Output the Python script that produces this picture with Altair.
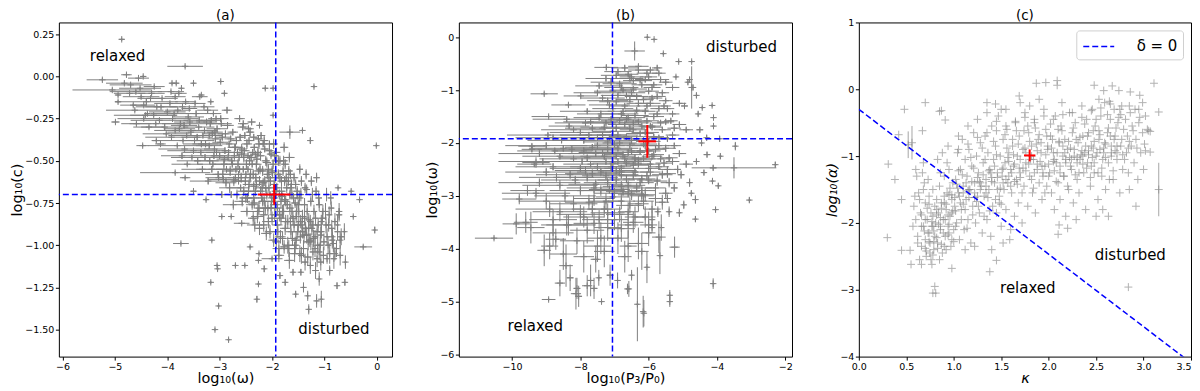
import altair as alt
import pandas as pd

FONT = "DejaVu Sans"
GRAY = "#808080"
PLUS = "M-1,0L1,0M0,-1L0,1"

# ---------------- panel (a): log10(omega) vs log10(c) ----------------
a_out_x = [
    -4.87, -3.66, -5.24, -4.78, -4.46,
    -5.05, -4.94, -4.99, -4.47, -3.74,
    -3.15, -3.05, -3.04, -3.17, -3.02,
    -3.09, -2.96, -4.13, -3.85, -3.66,
    -3.50, -3.26, -4.59, -4.21, -3.91,
    -3.83, -3.50, -2.98, -2.91, -3.35,
    -3.17, -3.73, -4.94, -4.45, -4.38,
    -4.26, -1.20, -0.01, -1.66, -1.42,
    -1.27, -0.04, -0.26, -0.33, -0.45,
    -0.74, -0.49, -2.13, -1.98, -1.98,
    -2.24, -2.83, -2.29, -2.26, -1.55,
    -1.32, -1.06, -0.76, -0.61, -2.52,
    -2.26, -2.25, -2.00, -1.60, -1.45,
    -2.42, -0.60, -2.58, -2.78, -1.30,
    -1.15, -1.75, -1.85, -2.15, -2.70,
    -0.85, -0.75, -0.70, -0.80, -0.72,
    -0.95, -0.62, -1.40, -1.10, -0.90]
a_out_y = [
    0.22, 0.06, -0.02, 0.01, 0.00,
    -0.08, -0.15, -0.27, -0.41, -0.99,
    -0.97, -1.12, -1.14, -1.22, -1.36,
    -1.50, -0.83, -0.40, -0.57, -0.60,
    -0.68, -0.73, -0.28, -0.38, -0.04,
    -0.04, -0.04, -0.03, -0.10, -0.11,
    -0.15, -0.07, -0.11, -0.17, -0.22,
    -0.23, -0.06, -0.41, -0.33, -0.32,
    -0.38, -0.91, -1.01, -0.73, -0.83,
    -0.66, -0.68, -0.07, -0.07, -0.23,
    -0.29, -1.56, -1.32, -1.23, -1.29,
    -1.30, -1.32, -1.24, -1.22, -1.12,
    -1.09, -1.05, -1.08, -1.16, -1.16,
    -1.01, -1.10, -0.87, -0.83, -1.38,
    -1.33, -1.22, -1.18, -1.14, -1.12,
    -0.95, -0.88, -0.97, -1.05, -0.80,
    -1.08, -0.92, -1.25, -1.20, -1.15]
a_out_xerr = [
    0.05, 0.34, 0.30, 0.10, 0.05,
    0.76, 0.05, 0.08, 0.12, 0.15,
    0.03, 0.03, 0.03, 0.03, 0.03,
    0.03, 0.04, 0.10, 0.67, 0.10,
    0.05, 0.05, 0.29, 0.08, 0.05,
    0.05, 0.04, 0.04, 0.04, 0.04,
    0.04, 0.04, 0.05, 0.22, 0.05,
    0.45, 0.03, 0.03, 0.20, 0.03,
    0.03, 0.03, 0.17, 0.03, 0.03,
    0.03, 0.03, 0.05, 0.05, 0.03,
    0.03, 0.03, 0.03, 0.03, 0.03,
    0.03, 0.03, 0.03, 0.03, 0.03,
    0.03, 0.03, 0.20, 0.03, 0.03,
    0.03, 0.03, 0.15, 0.03, 0.03,
    0.04, 0.03, 0.03, 0.03, 0.03,
    0.03, 0.03, 0.03, 0.03, 0.03,
    0.03, 0.03, 0.03, 0.03, 0.03]
a_out_yerr = [
    0.01, 0.01, 0.01, 0.01, 0.01,
    0.01, 0.01, 0.01, 0.01, 0.01,
    0.01, 0.01, 0.01, 0.01, 0.01,
    0.01, 0.01, 0.01, 0.01, 0.01,
    0.01, 0.01, 0.01, 0.01, 0.01,
    0.01, 0.01, 0.01, 0.01, 0.01,
    0.01, 0.01, 0.01, 0.01, 0.01,
    0.01, 0.01, 0.01, 0.04, 0.01,
    0.02, 0.02, 0.01, 0.01, 0.01,
    0.01, 0.01, 0.01, 0.01, 0.01,
    0.01, 0.01, 0.02, 0.01, 0.02,
    0.03, 0.05, 0.02, 0.02, 0.01,
    0.01, 0.01, 0.01, 0.02, 0.02,
    0.01, 0.04, 0.01, 0.01, 0.03,
    0.04, 0.02, 0.02, 0.02, 0.01,
    0.05, 0.06, 0.05, 0.04, 0.05,
    0.03, 0.05, 0.03, 0.04, 0.03]

a_core_x = [
    -4.60, -4.50, -4.40, -4.30, -4.20, -4.15, -4.10, -4.05, -4.00, -4.45, -4.35, -4.25, -4.70, -4.55, -4.65,
    -3.95, -3.90, -3.85, -3.80, -3.75, -3.70, -3.65, -3.60, -3.55, -3.50, -3.85, -3.72, -3.62, -3.92, -3.58, -3.78, -3.68,
    -3.45, -3.40, -3.35, -3.30, -3.28, -3.25, -3.20, -3.15, -3.12, -3.10, -3.05, -3.02, -3.42, -3.38, -3.22, -3.08, -3.32, -3.18, -3.48, -3.00,
    -2.98, -2.95, -2.92, -2.90, -2.88, -2.85, -2.82, -2.80, -2.78, -2.75, -2.72, -2.70, -2.68, -2.65, -2.62, -2.60, -2.58, -2.55, -2.52, -2.50, -2.96, -2.86, -2.74, -2.66, -2.56, -2.94, -2.84, -2.64, -2.54, -2.76,
    -2.48, -2.46, -2.44, -2.42, -2.40, -2.38, -2.36, -2.34, -2.32, -2.30, -2.28, -2.26, -2.24, -2.22, -2.20, -2.18, -2.16, -2.14, -2.12, -2.10, -2.08, -2.06, -2.04, -2.02, -2.00, -2.47, -2.39, -2.33, -2.27, -2.21, -2.17, -2.11, -2.05, -2.43, -2.35, -2.25, -2.15, -2.07,
    -1.98, -1.96, -1.94, -1.92, -1.90, -1.88, -1.86, -1.84, -1.82, -1.80, -1.78, -1.76, -1.74, -1.72, -1.70, -1.68, -1.66, -1.64, -1.62, -1.60, -1.58, -1.56, -1.54, -1.52, -1.50, -1.97, -1.87, -1.77, -1.67, -1.57, -1.93, -1.83, -1.73, -1.63, -1.53,
    -1.48, -1.46, -1.44, -1.42, -1.40, -1.38, -1.36, -1.34, -1.32, -1.30, -1.28, -1.26, -1.24, -1.22, -1.20, -1.18, -1.16, -1.14, -1.12, -1.10, -1.08, -1.06, -1.04, -1.02, -1.47, -1.35, -1.25, -1.15,
    -0.98, -0.95, -0.92, -0.90, -0.87, -0.85, -0.82, -0.80, -0.77, -0.75, -0.72, -0.70, -0.68, -0.96, -0.88]
a_core_y = [
    -0.09, -0.12, -0.15, -0.10, -0.18, -0.26, -0.13, -0.30, -0.21, -0.25, -0.30, -0.06, -0.05, -0.01, -0.17,
    -0.16, -0.25, -0.32, -0.20, -0.28, -0.38, -0.15, -0.24, -0.33, -0.44, -0.12, -0.47, -0.52, -0.36, -0.19, -0.10, -0.29,
    -0.22, -0.30, -0.40, -0.18, -0.48, -0.27, -0.35, -0.55, -0.22, -0.43, -0.31, -0.60, -0.50, -0.12, -0.62, -0.37, -0.35, -0.28, -0.38, -0.47,
    -0.25, -0.36, -0.52, -0.44, -0.63, -0.29, -0.40, -0.56, -0.70, -0.33, -0.47, -0.60, -0.38, -0.52, -0.25, -0.66, -0.43, -0.55, -0.35, -0.72, -0.70, -0.20, -0.76, -0.45, -0.30, -0.58, -0.48, -0.58, -0.48, -0.52,
    -0.40, -0.55, -0.64, -0.33, -0.48, -0.76, -0.58, -0.42, -0.68, -0.52, -0.83, -0.37, -0.62, -0.47, -0.72, -0.56, -0.88, -0.43, -0.66, -0.51, -0.78, -0.60, -0.70, -0.46, -0.84, -0.72, -0.27, -0.88, -0.45, -0.35, -0.63, -0.93, -0.40, -0.50, -0.65, -0.78, -0.74, -0.55,
    -0.52, -0.64, -0.76, -0.45, -0.88, -0.58, -0.70, -0.95, -0.62, -0.80, -0.50, -0.73, -0.86, -0.66, -1.00, -0.56, -0.78, -0.92, -0.70, -0.84, -0.60, -0.75, -0.97, -0.68, -0.88, -0.40, -1.02, -0.42, -0.48, -1.05, -0.68, -0.74, -0.60, -0.64, -0.80,
    -0.72, -0.95, -0.62, -0.83, -1.02, -0.76, -0.90, -0.67, -1.07, -0.85, -0.97, -0.74, -0.90, -1.04, -0.80, -0.95, -0.68, -1.08, -0.88, -0.76, -1.00, -0.92, -0.84, -1.06, -0.55, -0.58, -0.62, -0.60,
    -0.80, -0.95, -0.88, -1.05, -0.78, -0.97, -1.08, -0.86, -1.02, -0.92, -0.82, -1.06, -0.95, -0.70, -0.72]
a_core_xerr = [
    0.50, 0.35, 0.60, 0.25, 0.40, 0.55, 0.30, 0.45, 0.35, 0.50, 0.30, 0.20, 0.40, 0.20, 0.25,
    0.30, 0.50, 0.40, 0.25, 0.35, 0.60, 0.20, 0.30, 0.45, 0.50, 0.20, 0.40, 0.30, 0.50, 0.15, 0.15, 0.25,
    0.20, 0.30, 0.35, 0.20, 0.30, 0.20, 0.25, 0.30, 0.15, 0.20, 0.20, 0.25, 0.40, 0.15, 0.35, 0.15, 0.20, 0.20, 0.30, 0.15,
    0.15, 0.15, 0.20, 0.12, 0.20, 0.12, 0.15, 0.15, 0.20, 0.10, 0.12, 0.15, 0.10, 0.12, 0.10, 0.15, 0.10, 0.12, 0.10, 0.12, 0.25, 0.10, 0.20, 0.10, 0.10, 0.20, 0.15, 0.12, 0.10, 0.15,
    0.10, 0.10, 0.12, 0.08, 0.10, 0.12, 0.10, 0.08, 0.10, 0.10, 0.12, 0.08, 0.10, 0.08, 0.10, 0.08, 0.12, 0.08, 0.10, 0.08, 0.10, 0.08, 0.10, 0.08, 0.10, 0.15, 0.08, 0.15, 0.08, 0.08, 0.08, 0.10, 0.08, 0.10, 0.10, 0.10, 0.10, 0.08,
    0.10, 0.08, 0.10, 0.08, 0.10, 0.08, 0.08, 0.10, 0.08, 0.08, 0.08, 0.08, 0.10, 0.08, 0.10, 0.08, 0.08, 0.10, 0.08, 0.08, 0.08, 0.08, 0.10, 0.08, 0.08, 0.08, 0.12, 0.08, 0.10, 0.10, 0.08, 0.08, 0.08, 0.08, 0.08,
    0.08, 0.08, 0.06, 0.08, 0.08, 0.06, 0.08, 0.06, 0.08, 0.06, 0.06, 0.06, 0.06, 0.06, 0.06, 0.06, 0.06, 0.06, 0.06, 0.06, 0.06, 0.06, 0.06, 0.06, 0.06, 0.06, 0.06, 0.06,
    0.05, 0.05, 0.05, 0.05, 0.05, 0.05, 0.05, 0.05, 0.05, 0.05, 0.05, 0.05, 0.05, 0.05, 0.05]
a_core_yerr = [
    0.01, 0.01, 0.02, 0.01, 0.01, 0.01, 0.01, 0.02, 0.01, 0.01, 0.01, 0.01, 0.01, 0.01, 0.01,
    0.01, 0.02, 0.01, 0.01, 0.02, 0.01, 0.01, 0.01, 0.02, 0.01, 0.01, 0.02, 0.01, 0.01, 0.01, 0.01, 0.02,
    0.02, 0.01, 0.02, 0.01, 0.02, 0.02, 0.01, 0.02, 0.01, 0.02, 0.02, 0.01, 0.02, 0.01, 0.02, 0.02, 0.01, 0.02, 0.01, 0.02,
    0.02, 0.02, 0.03, 0.02, 0.03, 0.02, 0.02, 0.03, 0.02, 0.02, 0.03, 0.02, 0.02, 0.03, 0.02, 0.02, 0.03, 0.02, 0.02, 0.03, 0.02, 0.02, 0.03, 0.02, 0.02, 0.03, 0.02, 0.02, 0.03, 0.02,
    0.03, 0.02, 0.03, 0.03, 0.02, 0.03, 0.03, 0.02, 0.03, 0.03, 0.04, 0.02, 0.03, 0.03, 0.02, 0.03, 0.04, 0.02, 0.03, 0.03, 0.04, 0.03, 0.02, 0.03, 0.04, 0.03, 0.02, 0.04, 0.03, 0.02, 0.03, 0.04, 0.02, 0.03, 0.03, 0.04, 0.03, 0.03,
    0.03, 0.03, 0.04, 0.03, 0.04, 0.03, 0.03, 0.04, 0.03, 0.04, 0.03, 0.03, 0.04, 0.03, 0.05, 0.03, 0.04, 0.04, 0.03, 0.04, 0.03, 0.03, 0.05, 0.03, 0.04, 0.03, 0.05, 0.03, 0.03, 0.05, 0.03, 0.04, 0.03, 0.03, 0.04,
    0.04, 0.04, 0.03, 0.04, 0.05, 0.04, 0.04, 0.03, 0.05, 0.04, 0.04, 0.03, 0.04, 0.05, 0.04, 0.04, 0.03, 0.05, 0.04, 0.04, 0.05, 0.04, 0.04, 0.05, 0.03, 0.03, 0.03, 0.03,
    0.05, 0.05, 0.04, 0.06, 0.04, 0.05, 0.06, 0.05, 0.05, 0.05, 0.04, 0.06, 0.05, 0.04, 0.04]

a_core2_x = [
    -3.20, -3.16, -3.13, -3.09, -3.06, -3.03, -2.99, -2.97, -2.93, -2.91,
    -2.89, -2.87, -2.83, -2.81, -2.79, -2.77, -2.73, -2.71, -2.69, -2.67,
    -2.63, -2.61, -2.59, -2.57, -2.53, -2.51, -2.49, -2.45, -2.41, -2.37,
    -2.35, -2.31, -2.29, -2.27, -2.23, -2.19, -2.17, -2.13, -2.09, -2.07,
    -2.03, -2.01, -1.99, -1.95, -1.93, -1.91, -1.89, -1.85, -1.83, -1.81,
    -1.79, -1.75, -1.71, -1.69, -1.65, -1.61, -1.59, -1.55, -1.51, -1.49,
    -1.45, -1.43, -1.39, -1.37, -1.33, -1.31, -1.27, -1.23, -1.21, -1.17,
    -1.13, -1.11, -1.07, -1.03, -1.01, -0.97, -0.93, -0.91, -0.86, -0.83,
    -4.82, -4.72, -4.62, -4.52, -4.42, -4.32, -4.22, -4.12, -4.02, -3.93,
    -3.87, -3.81, -3.77, -3.71, -3.67, -3.63, -3.57, -3.53, -3.47, -3.43,
    -3.39, -3.36, -3.33, -3.29, -3.27, -3.23, -3.19, -3.14, -3.11, -3.07,
    -1.97, -1.87, -1.77, -1.67, -1.57, -1.47, -1.37, -1.27, -1.17, -1.07,
    -2.55, -2.45, -2.35, -2.25, -2.15, -2.05, -1.95, -1.85, -1.75, -1.65]
a_core2_y = [
    -0.41, -0.26, -0.52, -0.33, -0.45, -0.58, -0.39, -0.28, -0.61, -0.49,
    -0.34, -0.55, -0.45, -0.66, -0.37, -0.50, -0.62, -0.42, -0.55, -0.70,
    -0.48, -0.36, -0.60, -0.74, -0.44, -0.62, -0.52, -0.68, -0.58, -0.45,
    -0.72, -0.60, -0.49, -0.80, -0.55, -0.66, -0.40, -0.78, -0.58, -0.86,
    -0.62, -0.74, -0.57, -0.82, -0.50, -0.66, -0.92, -0.60, -0.84, -0.71,
    -0.56, -0.90, -0.76, -0.62, -0.86, -0.96, -0.72, -0.64, -0.92, -0.80,
    -0.70, -0.88, -0.94, -0.66, -0.80, -0.98, -0.86, -0.70, -0.96, -0.84,
    -1.00, -0.72, -0.94, -0.80, -0.98, -0.88, -1.00, -0.82, -0.90, -0.99,
    -0.04, -0.10, -0.20, -0.07, -0.23, -0.13, -0.28, -0.18, -0.34, -0.09,
    -0.22, -0.41, -0.31, -0.18, -0.43, -0.35, -0.27, -0.48, -0.16, -0.36,
    -0.26, -0.45, -0.55, -0.32, -0.40, -0.20, -0.50, -0.34, -0.47, -0.25,
    -0.97, -1.06, -1.01, -1.09, -1.02, -1.05, -1.10, -1.12, -1.15, -1.10,
    -0.28, -0.31, -0.36, -0.40, -0.38, -0.44, -0.47, -0.50, -0.52, -0.58]
a_core2_xerr = [
    0.25, 0.20, 0.30, 0.15, 0.20, 0.25, 0.15, 0.20, 0.30, 0.15,
    0.15, 0.20, 0.12, 0.20, 0.12, 0.15, 0.15, 0.12, 0.12, 0.18,
    0.10, 0.10, 0.12, 0.15, 0.10, 0.12, 0.10, 0.12, 0.10, 0.08,
    0.10, 0.10, 0.08, 0.12, 0.08, 0.10, 0.08, 0.10, 0.08, 0.12,
    0.08, 0.10, 0.08, 0.10, 0.08, 0.08, 0.10, 0.08, 0.10, 0.08,
    0.08, 0.10, 0.08, 0.08, 0.08, 0.10, 0.08, 0.08, 0.08, 0.08,
    0.06, 0.08, 0.08, 0.06, 0.06, 0.08, 0.06, 0.06, 0.06, 0.06,
    0.06, 0.06, 0.06, 0.06, 0.06, 0.05, 0.05, 0.05, 0.05, 0.05,
    0.35, 0.30, 0.55, 0.40, 0.60, 0.25, 0.50, 0.30, 0.45, 0.25,
    0.45, 0.55, 0.30, 0.25, 0.50, 0.35, 0.30, 0.40, 0.20, 0.30,
    0.30, 0.35, 0.40, 0.25, 0.25, 0.20, 0.30, 0.20, 0.25, 0.15,
    0.10, 0.10, 0.08, 0.10, 0.08, 0.08, 0.06, 0.06, 0.06, 0.06,
    0.10, 0.10, 0.08, 0.08, 0.08, 0.08, 0.08, 0.08, 0.08, 0.08]
a_core2_yerr = [
    0.015, 0.02, 0.015, 0.02, 0.015, 0.02, 0.02, 0.015, 0.02, 0.02,
    0.02, 0.02, 0.02, 0.03, 0.02, 0.02, 0.03, 0.02, 0.02, 0.03,
    0.02, 0.02, 0.03, 0.03, 0.02, 0.03, 0.03, 0.03, 0.03, 0.02,
    0.03, 0.03, 0.03, 0.04, 0.03, 0.03, 0.02, 0.04, 0.03, 0.04,
    0.03, 0.04, 0.03, 0.04, 0.03, 0.03, 0.04, 0.03, 0.04, 0.03,
    0.03, 0.04, 0.03, 0.03, 0.04, 0.04, 0.03, 0.03, 0.04, 0.04,
    0.04, 0.04, 0.05, 0.03, 0.04, 0.05, 0.04, 0.04, 0.05, 0.04,
    0.05, 0.04, 0.05, 0.04, 0.05, 0.05, 0.05, 0.05, 0.05, 0.05,
    0.01, 0.01, 0.01, 0.01, 0.01, 0.01, 0.01, 0.01, 0.01, 0.01,
    0.01, 0.01, 0.01, 0.01, 0.01, 0.01, 0.02, 0.01, 0.01, 0.02,
    0.02, 0.015, 0.02, 0.015, 0.02, 0.015, 0.02, 0.015, 0.02, 0.015,
    0.04, 0.04, 0.04, 0.05, 0.04, 0.05, 0.05, 0.05, 0.05, 0.05,
    0.02, 0.02, 0.02, 0.03, 0.03, 0.03, 0.03, 0.03, 0.03, 0.03]

a_core3_x = [
    -2.62, -2.58, -2.54, -2.50, -2.46, -2.42, -2.38, -2.34, -2.30, -2.26,
    -2.22, -2.18, -2.14, -2.10, -2.06, -2.02, -1.98, -1.94, -1.90, -1.86,
    -1.82, -1.78, -1.74, -1.70, -1.66, -1.62, -1.58, -1.54, -1.50, -1.46,
    -1.42, -1.38, -1.34, -1.30, -1.26, -1.22, -1.18, -1.14, -1.10, -1.06,
    -2.70, -2.64, -2.44, -2.32, -2.12, -2.00, -1.88, -1.76, -1.64, -1.52,
    -2.48, -2.36, -2.24, -2.16, -2.04, -1.92, -1.80, -1.68, -1.56, -1.44]
a_core3_y = [
    -0.55, -0.46, -0.68, -0.58, -0.47, -0.60, -0.52, -0.75, -0.64, -0.56,
    -0.68, -0.74, -0.62, -0.70, -0.66, -0.78, -0.72, -0.60, -0.78, -0.82,
    -0.68, -0.80, -0.74, -0.86, -0.70, -0.80, -0.88, -0.83, -0.76, -0.86,
    -0.92, -0.84, -0.94, -0.90, -0.98, -0.88, -1.02, -0.92, -1.04, -0.86,
    -0.42, -0.62, -0.38, -0.46, -0.50, -0.56, -0.50, -0.62, -0.66, -0.70,
    -0.80, -0.84, -0.90, -0.82, -0.92, -0.98, -0.96, -1.02, -1.00, -1.06]
a_core3_xerr = [
    0.12, 0.10, 0.12, 0.10, 0.10, 0.12, 0.10, 0.12, 0.10, 0.10,
    0.10, 0.08, 0.10, 0.08, 0.10, 0.08, 0.10, 0.08, 0.10, 0.08,
    0.08, 0.10, 0.08, 0.08, 0.10, 0.08, 0.08, 0.10, 0.08, 0.08,
    0.08, 0.06, 0.08, 0.06, 0.06, 0.08, 0.06, 0.06, 0.06, 0.06,
    0.15, 0.12, 0.10, 0.10, 0.08, 0.10, 0.08, 0.08, 0.08, 0.08,
    0.12, 0.10, 0.10, 0.08, 0.10, 0.08, 0.08, 0.08, 0.08, 0.06]
a_core3_yerr = [
    0.02, 0.02, 0.03, 0.02, 0.02, 0.03, 0.02, 0.03, 0.03, 0.02,
    0.03, 0.03, 0.03, 0.03, 0.03, 0.04, 0.03, 0.03, 0.04, 0.04,
    0.03, 0.04, 0.03, 0.04, 0.03, 0.04, 0.04, 0.04, 0.03, 0.04,
    0.04, 0.04, 0.05, 0.04, 0.05, 0.04, 0.05, 0.04, 0.05, 0.04,
    0.02, 0.02, 0.02, 0.02, 0.03, 0.03, 0.03, 0.03, 0.03, 0.03,
    0.03, 0.04, 0.04, 0.04, 0.04, 0.04, 0.04, 0.05, 0.05, 0.05]

a_red = {"x": [-1.96], "y": [-0.70], "ex": [0.31], "ey": [0.06]}
a_vline = [-1.93]
a_hline = [-0.70]
a_notes = {"x": [-4.95, -0.82], "y": [0.124, -1.496], "t": ["relaxed", "disturbed"]}

# ---------------- panel (b): log10(P3/P0) vs log10(omega) ----------------
b_out_x = [
    -10.53, -9.06, -8.93, -8.93, -7.38,
    -9.42, -9.42, -9.30, -9.55, -9.45,
    -9.60, -9.06, -8.42, -8.13, -7.80,
    -7.13, -7.55, -7.24, -6.04, -5.84,
    -6.41, -5.57, -4.74, -4.74, -4.43,
    -4.14, -4.10, -4.10, -3.92, -3.46,
    -3.90, -3.50, -2.29, -4.11, -4.13,
    -3.96, -3.05, -4.04, -4.63, -4.11,
    -5.38, -5.38, -6.16, -6.33, -6.14,
    -6.58, -6.50, -5.67, -5.24, -5.63,
    -5.90, -5.90, -5.73, -5.40, -5.10,
    -4.63, -4.97, -4.80, -5.15, -5.05,
    -4.38, -4.29, -5.12, -5.20, -4.80,
    -4.70, -4.60, -7.99, -8.35, -8.33,
    -9.35, -9.79, -9.88, -8.72, -8.90,
    -7.70, -7.60, -8.05, -6.62, -6.05,
    -6.91, -7.46, -8.60, -8.30, -8.10,
    -4.85, -4.95, -4.50, -4.45, -4.30,
    -4.60, -4.75, -5.45, -5.25, -4.55]
b_out_y = [
    -3.80, -1.07, -1.50, -4.96, -5.00,
    -2.06, -2.12, -2.37, -2.90, -3.60,
    -3.50, -4.03, -4.32, -4.85, -4.70,
    -4.50, -4.20, -0.57, 0.00, -0.04,
    -0.26, -0.31, -0.46, -0.95, -1.33,
    -1.29, -1.52, -1.68, -1.92, -2.06,
    -2.25, -2.47, -2.41, -2.47, -2.72,
    -2.81, -3.08, -3.26, -3.44, -4.66,
    -4.88, -5.00, -5.19, -5.05, -5.22,
    -4.76, -4.50, -4.13, -3.97, -3.60,
    -3.45, -3.60, -3.30, -3.30, -3.32,
    -3.07, -3.17, -2.75, -2.50, -2.60,
    -2.56, -2.22, -0.46, -0.75, -0.80,
    -0.95, -1.10, -1.11, -1.28, -1.68,
    -2.40, -3.06, -3.53, -3.82, -3.95,
    -4.60, -4.75, -4.90, -4.76, -4.35,
    -4.60, -4.55, -4.65, -4.55, -4.75,
    -0.85, -1.30, -1.75, -2.00, -1.90,
    -2.35, -2.95, -3.05, -2.85, -1.45]
b_out_xerr = [
    0.56, 0.40, 0.50, 0.20, 0.05,
    0.40, 0.30, 0.40, 0.50, 0.40,
    0.35, 0.20, 0.20, 0.15, 0.15,
    0.10, 0.15, 0.35, 0.05, 0.05,
    0.30, 0.05, 0.05, 0.05, 0.05,
    0.05, 0.05, 0.05, 0.05, 0.05,
    0.05, 1.24, 0.05, 0.10, 0.05,
    0.05, 0.05, 0.05, 0.05, 0.05,
    0.05, 0.05, 0.05, 0.05, 0.05,
    0.05, 0.05, 0.05, 0.15, 0.05,
    0.05, 0.05, 0.05, 0.05, 0.05,
    0.05, 0.05, 0.05, 0.10, 0.10,
    0.05, 0.10, 0.05, 0.05, 0.05,
    0.05, 0.05, 0.50, 0.50, 0.60,
    0.50, 0.50, 0.40, 0.30, 0.25,
    0.10, 0.10, 0.10, 0.05, 0.05,
    0.05, 0.05, 0.15, 0.10, 0.10,
    0.05, 0.10, 0.10, 0.05, 0.05,
    0.05, 0.05, 0.10, 0.10, 0.05]
b_out_yerr = [
    0.03, 0.03, 0.03, 0.03, 0.03,
    0.05, 0.05, 0.10, 0.10, 0.30,
    0.20, 0.30, 0.40, 0.30, 0.20,
    0.20, 0.25, 0.05, 0.02, 0.02,
    0.18, 0.03, 0.03, 0.40, 0.03,
    0.03, 0.03, 0.05, 0.05, 0.08,
    0.05, 0.20, 0.05, 0.05, 0.05,
    0.05, 0.05, 0.05, 0.05, 0.10,
    0.10, 0.10, 0.30, 0.70, 0.25,
    0.15, 0.10, 0.35, 0.20, 0.25,
    0.15, 0.10, 0.10, 0.10, 0.08,
    0.08, 0.08, 0.08, 0.08, 0.08,
    0.05, 0.05, 0.03, 0.03, 0.05,
    0.05, 0.05, 0.03, 0.03, 0.05,
    0.05, 0.10, 0.20, 0.20, 0.25,
    0.30, 0.20, 0.20, 0.10, 0.30,
    0.15, 0.15, 0.25, 0.25, 0.20,
    0.05, 0.05, 0.05, 0.05, 0.05,
    0.05, 0.05, 0.08, 0.08, 0.05]

b_core_x = [
    -6.90, -6.60, -6.30, -6.00, -5.70, -5.50, -6.20, -6.80, -7.10, -5.90, -6.45, -5.30, -5.75,
    -7.50, -7.20, -6.90, -6.70, -6.50, -6.30, -6.10, -5.90, -5.70, -5.50, -5.30, -7.80, -7.40, -6.80, -6.40, -5.60, -5.10, -6.00, -7.05, -6.55,
    -8.40, -8.00, -7.70, -7.50, -7.30, -7.10, -6.90, -6.70, -6.50, -6.30, -6.10, -5.90, -5.70, -5.50, -5.30, -5.10, -4.90, -8.80, -7.90, -6.60, -6.00, -5.60, -7.20, -6.20,
    -9.20, -8.80, -8.50, -8.20, -7.90, -7.70, -7.50, -7.30, -7.10, -6.90, -6.70, -6.50, -6.30, -6.10, -5.90, -5.70, -5.50, -5.30, -5.10, -4.90, -8.00, -6.80, -6.00, -7.00, -6.40, -5.80,
    -9.00, -8.60, -8.30, -8.00, -7.80, -7.60, -7.40, -7.20, -7.00, -6.80, -6.60, -6.40, -6.20, -6.00, -5.80, -5.60, -5.40, -9.30, -6.50, -5.50,
    -9.00, -8.60, -8.20, -7.90, -7.60, -7.30, -7.00, -6.80, -6.60, -6.30, -6.10, -5.80, -7.45, -8.80,
    -8.80, -8.40, -8.10, -7.80, -7.50, -7.20, -6.90, -6.60, -6.30, -6.00, -8.50, -7.90, -7.30, -6.70,
    -6.75, -6.35, -6.05, -5.85, -6.65, -6.95, -6.45, -6.15, -6.85, -6.55, -6.25, -6.95, -6.65, -6.15, -5.95, -7.25, -6.45, -6.95, -6.25, -5.95, -7.15, -6.75, -7.35, -7.55, -7.65, -5.65, -5.45, -5.25, -5.75, -5.45, -7.25, -6.85, -6.45, -7.65, -6.15]
b_core_y = [
    -0.65, -0.70, -0.62, -0.75, -0.68, -0.85, -0.90, -0.95, -0.85, -0.95, -0.82, -0.95, -0.58,
    -1.05, -1.20, -1.10, -1.30, -1.05, -1.25, -1.40, -1.15, -1.35, -1.20, -1.45, -1.40, -1.45, -1.45, -1.48, -1.05, -1.25, -1.02, -1.35, -1.18,
    -1.55, -1.80, -1.60, -1.90, -1.70, -1.55, -1.85, -1.65, -1.95, -1.60, -1.80, -1.70, -1.90, -1.60, -1.85, -1.65, -1.75, -1.90, -1.95, -1.52, -1.97, -1.75, -1.98, -1.68,
    -2.20, -2.45, -2.10, -2.30, -2.15, -2.40, -2.05, -2.25, -2.45, -2.10, -2.30, -2.15, -2.40, -2.05, -2.25, -2.45, -2.10, -2.35, -2.20, -2.40, -2.48, -2.48, -2.48, -2.02, -2.28, -2.12,
    -2.55, -2.80, -2.60, -2.90, -2.65, -2.85, -2.55, -2.75, -2.95, -2.60, -2.80, -2.55, -2.90, -2.70, -2.85, -2.60, -2.75, -2.95, -2.98, -2.95,
    -3.10, -3.30, -3.15, -3.40, -3.05, -3.25, -3.45, -3.10, -3.30, -3.15, -3.40, -3.05, -3.45, -3.45,
    -3.70, -3.55, -3.85, -3.65, -3.95, -3.60, -3.80, -3.55, -3.90, -3.70, -4.10, -4.15, -4.05, -4.15,
    -1.00, -1.12, -1.30, -1.50, -1.55, -1.72, -1.75, -1.95, -2.00, -2.05, -2.15, -2.25, -2.38, -2.30, -2.40, -2.35, -2.62, -2.70, -2.75, -2.55, -2.88, -2.92, -1.85, -2.20, -2.58, -2.30, -2.50, -2.05, -1.45, -1.35, -3.10, -3.35, -3.50, -3.25, -3.10]
b_core_xerr = [
    0.40, 0.30, 0.30, 0.25, 0.20, 0.20, 0.30, 0.50, 0.60, 0.25, 0.30, 0.20, 0.15,
    0.70, 0.60, 0.50, 0.45, 0.40, 0.35, 0.30, 0.30, 0.25, 0.20, 0.20, 0.80, 0.70, 0.50, 0.40, 0.20, 0.20, 0.30, 0.60, 0.40,
    1.00, 0.90, 0.80, 0.80, 0.70, 0.60, 0.60, 0.50, 0.50, 0.40, 0.40, 0.30, 0.30, 0.25, 0.20, 0.20, 0.20, 1.10, 0.90, 0.50, 0.35, 0.25, 0.70, 0.40,
    1.20, 1.10, 1.00, 1.00, 0.90, 0.80, 0.80, 0.70, 0.60, 0.60, 0.50, 0.50, 0.40, 0.40, 0.30, 0.30, 0.30, 0.20, 0.20, 0.20, 0.90, 0.50, 0.35, 0.60, 0.45, 0.30,
    1.20, 1.10, 1.00, 0.90, 0.90, 0.80, 0.70, 0.70, 0.60, 0.50, 0.50, 0.40, 0.40, 0.35, 0.30, 0.30, 0.25, 1.00, 0.40, 0.20,
    0.80, 0.80, 0.70, 0.60, 0.60, 0.50, 0.40, 0.40, 0.30, 0.30, 0.30, 0.20, 0.50, 0.70,
    0.60, 0.60, 0.50, 0.50, 0.40, 0.40, 0.30, 0.30, 0.30, 0.20, 0.40, 0.30, 0.30, 0.20,
    0.40, 0.35, 0.30, 0.30, 0.45, 0.50, 0.40, 0.35, 0.50, 0.45, 0.40, 0.55, 0.45, 0.35, 0.30, 0.65, 0.40, 0.55, 0.40, 0.30, 0.60, 0.50, 0.70, 0.80, 0.80, 0.30, 0.25, 0.20, 0.25, 0.20, 0.50, 0.40, 0.30, 0.60, 0.30]
b_core_yerr = [
    0.05, 0.04, 0.05, 0.05, 0.04, 0.05, 0.05, 0.05, 0.06, 0.05, 0.05, 0.04, 0.05,
    0.05, 0.05, 0.04, 0.05, 0.05, 0.05, 0.06, 0.05, 0.05, 0.04, 0.05, 0.05, 0.06, 0.05, 0.05, 0.04, 0.05, 0.05, 0.05, 0.05,
    0.05, 0.06, 0.05, 0.06, 0.05, 0.05, 0.06, 0.05, 0.06, 0.05, 0.05, 0.06, 0.05, 0.05, 0.06, 0.05, 0.05, 0.06, 0.06, 0.05, 0.05, 0.05, 0.06, 0.05,
    0.06, 0.07, 0.06, 0.06, 0.07, 0.06, 0.06, 0.07, 0.06, 0.06, 0.07, 0.06, 0.06, 0.07, 0.06, 0.06, 0.07, 0.06, 0.06, 0.07, 0.06, 0.07, 0.06, 0.06, 0.07, 0.06,
    0.08, 0.10, 0.08, 0.09, 0.08, 0.10, 0.08, 0.09, 0.10, 0.08, 0.09, 0.08, 0.10, 0.08, 0.09, 0.08, 0.09, 0.10, 0.10, 0.10,
    0.15, 0.18, 0.15, 0.20, 0.14, 0.16, 0.20, 0.15, 0.18, 0.15, 0.20, 0.14, 0.18, 0.20,
    0.25, 0.20, 0.25, 0.25, 0.30, 0.25, 0.30, 0.25, 0.30, 0.25, 0.30, 0.30, 0.30, 0.30,
    0.05, 0.05, 0.05, 0.05, 0.05, 0.05, 0.05, 0.05, 0.05, 0.05, 0.06, 0.06, 0.06, 0.06, 0.06, 0.06, 0.08, 0.08, 0.08, 0.08, 0.08, 0.08, 0.05, 0.06, 0.08, 0.06, 0.06, 0.05, 0.05, 0.05, 0.15, 0.15, 0.20, 0.15, 0.15]

b_core2_x = [
    -7.45, -7.35, -7.25, -7.15, -7.05, -6.95, -6.85, -6.75, -6.65, -6.55,
    -6.45, -6.35, -6.25, -6.15, -6.05, -5.95, -5.85, -5.75, -5.65, -5.55,
    -7.85, -7.65, -7.45, -7.25, -7.05, -6.85, -6.65, -6.45, -6.25, -6.05,
    -5.85, -5.65, -5.45, -5.25, -7.75, -7.15, -6.55, -5.95, -5.35, -6.35,
    -8.25, -7.95, -7.65, -7.35, -7.05, -6.75, -6.45, -6.15, -5.85, -5.55,
    -7.80, -7.50, -7.20, -6.90, -6.60, -6.30, -6.00, -5.70, -5.40, -8.60,
    -8.15, -7.85, -7.55, -7.25, -6.95, -6.65, -6.35, -6.05, -5.75, -5.45,
    -8.45, -7.75, -7.05, -6.55, -6.10, -5.60, -7.40, -6.80, -6.20, -5.90,
    -8.00, -7.60, -7.20, -6.80, -6.40, -6.00, -5.70, -7.40, -6.60, -6.20,
    -6.95, -6.70, -6.50, -6.30, -6.10, -5.95, -6.85, -6.60, -6.40, -6.20,
    -8.95, -9.10, -8.70, -8.55, -8.90, -9.20, -8.35, -8.75, -9.00, -8.20]
b_core2_y = [
    -0.92, -1.15, -0.78, -1.28, -1.02, -1.22, -0.88, -1.40, -1.10, -0.78,
    -0.98, -1.38, -0.82, -1.18, -0.68, -1.25, -0.90, -1.12, -0.80, -1.30,
    -1.62, -1.72, -1.52, -1.62, -1.78, -1.58, -1.88, -1.62, -1.82, -1.58,
    -1.88, -1.62, -1.92, -1.72, -1.85, -1.90, -1.72, -1.68, -1.58, -1.92,
    -2.12, -2.35, -2.08, -2.18, -2.38, -2.22, -2.42, -2.02, -2.22, -2.38,
    -2.28, -2.45, -2.12, -2.35, -2.18, -2.32, -2.15, -2.05, -2.28, -2.25,
    -2.70, -2.52, -2.78, -2.62, -2.52, -2.68, -2.85, -2.62, -2.72, -2.58,
    -3.00, -3.12, -3.02, -3.18, -2.98, -3.12, -2.90, -2.82, -3.00, -3.25,
    -3.35, -3.52, -3.32, -3.62, -3.40, -3.55, -3.78, -3.80, -3.95, -4.05,
    -0.72, -0.58, -0.75, -0.55, -0.80, -0.62, -2.55, -2.95, -2.35, -2.68,
    -1.85, -2.35, -2.65, -1.95, -3.25, -2.75, -3.55, -2.15, -2.05, -1.75]
b_core2_xerr = [
    0.70, 0.65, 0.60, 0.60, 0.55, 0.50, 0.50, 0.45, 0.45, 0.40,
    0.40, 0.35, 0.35, 0.30, 0.30, 0.30, 0.25, 0.25, 0.25, 0.20,
    0.90, 0.80, 0.75, 0.70, 0.60, 0.55, 0.50, 0.45, 0.40, 0.35,
    0.30, 0.25, 0.25, 0.20, 0.85, 0.65, 0.45, 0.30, 0.20, 0.40,
    1.00, 0.90, 0.80, 0.70, 0.60, 0.55, 0.45, 0.40, 0.30, 0.25,
    0.85, 0.80, 0.70, 0.60, 0.50, 0.40, 0.35, 0.30, 0.25, 1.10,
    1.00, 0.90, 0.80, 0.70, 0.60, 0.50, 0.45, 0.35, 0.30, 0.25,
    0.90, 0.70, 0.50, 0.40, 0.30, 0.20, 0.70, 0.55, 0.35, 0.25,
    0.70, 0.60, 0.50, 0.40, 0.30, 0.25, 0.20, 0.40, 0.25, 0.20,
    0.45, 0.40, 0.35, 0.30, 0.30, 0.25, 0.55, 0.45, 0.45, 0.40,
    1.20, 1.30, 1.10, 1.00, 1.00, 1.20, 0.80, 1.10, 1.20, 0.95]
b_core2_yerr = [
    0.05, 0.05, 0.05, 0.05, 0.05, 0.05, 0.05, 0.05, 0.05, 0.05,
    0.05, 0.05, 0.04, 0.05, 0.04, 0.05, 0.05, 0.05, 0.04, 0.05,
    0.05, 0.05, 0.05, 0.05, 0.05, 0.05, 0.05, 0.05, 0.05, 0.05,
    0.05, 0.05, 0.05, 0.05, 0.05, 0.05, 0.05, 0.05, 0.05, 0.05,
    0.06, 0.06, 0.06, 0.06, 0.07, 0.06, 0.07, 0.06, 0.06, 0.07,
    0.06, 0.07, 0.06, 0.06, 0.06, 0.06, 0.06, 0.06, 0.06, 0.06,
    0.08, 0.08, 0.09, 0.08, 0.08, 0.08, 0.09, 0.08, 0.09, 0.08,
    0.12, 0.14, 0.12, 0.15, 0.12, 0.14, 0.10, 0.10, 0.12, 0.15,
    0.18, 0.20, 0.18, 0.25, 0.20, 0.25, 0.30, 0.30, 0.30, 0.35,
    0.05, 0.05, 0.05, 0.04, 0.05, 0.05, 0.08, 0.08, 0.06, 0.08,
    0.05, 0.06, 0.08, 0.05, 0.15, 0.08, 0.20, 0.06, 0.06, 0.05]

b_red = {"x": [-6.04], "y": [-1.97], "ex": [0.26], "ey": [0.31]}
b_vline = [-7.06]
b_hline = [-1.92]
b_notes = {"x": [-3.28, -9.32], "y": [-0.18, -5.46], "t": ["disturbed", "relaxed"]}

# ---------------- panel (c): kappa vs log10(alpha) ----------------
c_out_x = [
    0.31, 0.30, 0.48, 0.70, 0.87, 0.80, 0.81, 0.78, 0.45, 0.45,
    0.54, 0.55, 0.66, 0.77, 0.98, 1.38, 1.45, 1.44, 1.35, 1.50,
    1.69, 1.87, 1.97, 2.09, 2.09, 3.11, 3.16, 2.84, 2.92, 3.05,
    3.07, 3.02, 3.07, 2.50, 2.63, 2.11, 2.20, 2.10, 0.42, 0.67,
    0.60, 0.38, 0.91, 0.85, 2.48, 2.58, 2.67, 2.74, 2.86, 2.96,
    2.99, 1.80, 1.60]
c_out_y = [
    -1.12, -2.22, -0.30, -0.20, -0.32, -2.95, -3.05, -3.05, -1.65, -2.41,
    -2.41, -2.62, -2.62, -2.62, -2.68, -2.73, -2.56, -0.22, -0.20, -0.30,
    -0.10, 0.09, 0.10, 0.13, 0.06, 0.09, -0.34, -2.96, -1.75, -0.62,
    -0.63, -0.92, -0.94, -1.90, -1.90, -2.03, -2.08, -2.17, -0.68, -0.62,
    -1.20, -1.35, -0.46, -0.33, 0.06, -0.02, 0.05, -0.02, -0.04, -0.09,
    -0.20, -0.25, -2.10]

c_core_x = [
    0.58, 0.60, 0.62, 0.63, 0.65, 0.66, 0.68, 0.69, 0.70, 0.71, 0.72, 0.73, 0.74, 0.75, 0.76, 0.77, 0.78, 0.79, 0.80, 0.80, 0.61, 0.64, 0.67, 0.70, 0.73, 0.76, 0.78, 0.57, 0.59, 0.68,
    0.81, 0.82, 0.83, 0.84, 0.85, 0.86, 0.87, 0.88, 0.89, 0.90, 0.91, 0.92, 0.93, 0.94, 0.95, 0.96, 0.97, 0.98, 0.99, 1.00, 0.83, 0.85, 0.88, 0.90, 0.92, 0.94, 0.96, 0.98, 0.86, 0.93,
    1.01, 1.02, 1.03, 1.04, 1.05, 1.06, 1.07, 1.08, 1.09, 1.10, 1.11, 1.12, 1.13, 1.14, 1.15, 1.16, 1.17, 1.18, 1.19, 1.20, 1.21, 1.22, 1.23, 1.24, 1.25, 1.26, 1.27, 1.28, 1.29, 1.30, 1.05, 1.15, 1.25, 1.12, 1.22,
    1.31, 1.32, 1.33, 1.34, 1.35, 1.36, 1.37, 1.38, 1.39, 1.40, 1.41, 1.42, 1.43, 1.44, 1.45, 1.46, 1.47, 1.48, 1.49, 1.50, 1.51, 1.52, 1.53, 1.54, 1.55, 1.56, 1.57, 1.58, 1.59, 1.60, 1.35, 1.45, 1.55, 1.40, 1.52,
    1.61, 1.62, 1.63, 1.64, 1.65, 1.66, 1.67, 1.68, 1.69, 1.70, 1.72, 1.73, 1.74, 1.75, 1.76, 1.78, 1.79, 1.80, 1.82, 1.83, 1.84, 1.85, 1.86, 1.88, 1.89, 1.90, 1.92, 1.93, 1.95, 1.96, 1.97, 1.98, 1.99, 1.70, 1.90,
    2.01, 2.02, 2.03, 2.05, 2.06, 2.07, 2.08, 2.10, 2.11, 2.12, 2.13, 2.15, 2.16, 2.17, 2.18, 2.20, 2.21, 2.22, 2.23, 2.25, 2.26, 2.27, 2.28, 2.30, 2.31, 2.32, 2.33, 2.35, 2.36, 2.37, 2.38, 2.39, 2.40, 2.14, 2.29,
    2.41, 2.42, 2.44, 2.45, 2.46, 2.48, 2.49, 2.50, 2.52, 2.53, 2.55, 2.56, 2.58, 2.59, 2.60, 2.62, 2.63, 2.65, 2.66, 2.68, 2.69, 2.70, 2.72, 2.73, 2.75, 2.76, 2.77, 2.78, 2.79, 2.57,
    2.81, 2.82, 2.83, 2.84, 2.86, 2.87, 2.88, 2.90, 2.91, 2.92, 2.94, 2.95, 2.97, 2.99, 3.00, 3.02, 3.04, 2.85]
c_core_y = [
    -1.75, -1.95, -2.20, -1.55, -1.85, -2.35, -2.05, -1.40, -1.70, -2.50, -1.95, -2.15, -1.60, -2.30, -1.85, -2.05, -1.50, -2.40, -1.75, -2.20, -1.30, -2.55, -1.25, -2.25, -1.35, -2.55, -1.90, -2.05, -1.60, -1.10,
    -2.00, -1.65, -2.30, -1.85, -1.45, -2.10, -1.70, -2.45, -1.95, -1.30, -2.20, -1.80, -1.55, -2.05, -1.20, -1.90, -2.35, -1.65, -1.40, -2.10, -1.05, -2.55, -0.95, -1.60, -2.40, -0.85, -1.48, -2.25, -1.25, -1.10,
    -1.75, -1.35, -2.00, -0.95, -1.55, -2.25, -1.20, -1.80, -0.75, -1.45, -2.10, -1.05, -1.65, -1.30, -1.95, -0.90, -1.50, -2.30, -1.15, -1.75, -0.65, -1.40, -2.00, -1.00, -1.60, -1.25, -1.85, -0.80, -1.45, -2.15, -0.70, -0.55, -0.45, -2.40, -2.35,
    -1.10, -1.60, -0.70, -1.35, -1.95, -0.95, -1.50, -1.20, -2.20, -0.55, -1.75, -1.05, -1.40, -0.85, -1.85, -1.25, -0.40, -1.60, -1.00, -2.05, -1.30, -0.75, -1.50, -1.10, -1.80, -0.60, -1.40, -0.95, -2.25, -1.20, -0.35, -0.48, -0.30, -2.40, -2.30,
    -1.55, -0.85, -1.15, -1.90, -0.50, -1.35, -1.00, -1.70, -0.70, -1.25, -2.00, -0.90, -1.45, -0.35, -1.10, -1.75, -0.65, -1.30, -0.85, -1.55, -1.05, -0.45, -1.85, -1.20, -0.75, -1.40, -0.95, -1.65, -0.30, -1.15, -0.60, -1.45, -0.85, -0.20, -0.15,
    -1.25, -0.70, -1.55, -0.95, -1.80, -0.40, -1.10, -1.40, -0.80, -1.65, -0.55, -1.00, -1.30, -0.75, -1.90, -0.90, -1.50, -0.35, -1.15, -0.65, -1.70, -1.00, -0.50, -1.35, -0.80, -1.55, -1.05, -0.25, -0.70, -1.25, -0.95, -1.80, -0.45, -0.20, -1.95,
    -1.10, -0.65, -1.45, -0.85, -0.30, -1.25, -0.55, -1.00, -1.65, -0.75, -0.40, -1.30, -0.95, -0.20, -1.50, -0.65, -1.10, -0.45, -0.85, -1.35, -0.30, -0.70, -1.05, -0.50, -1.55, -0.85, -0.25, -1.20, -0.60, -1.80,
    -0.45, -0.95, -0.70, -1.25, -0.35, -0.85, -0.55, -1.10, -0.30, -0.75, -1.35, -0.50, -0.95, -0.65, -1.20, -0.40, -0.60, -1.50]

c_core2_x = [
    0.66, 0.69, 0.72, 0.74, 0.77, 0.79, 0.82, 0.84, 0.87, 0.89,
    0.71, 0.75, 0.79, 0.83, 0.87, 0.91, 0.95, 0.99, 0.64, 0.68,
    0.92, 0.95, 0.98, 1.01, 1.04, 1.07, 1.10, 1.13, 1.16, 1.19,
    1.22, 1.25, 1.28, 1.31, 1.34, 1.37, 1.40, 1.43, 1.46, 1.49,
    1.52, 1.55, 1.58, 1.61, 1.64, 1.67, 1.70, 1.73, 1.76, 1.79,
    1.82, 1.85, 1.88, 1.91, 1.94, 1.97, 2.00, 2.03, 2.06, 2.09,
    2.12, 2.15, 2.18, 2.21, 2.24, 2.27, 2.30, 2.33, 2.36, 2.39,
    2.42, 2.45, 2.48, 2.51, 2.54, 2.57, 2.60, 2.63, 2.66, 2.69,
    1.05, 1.12, 1.18, 1.24, 1.30, 1.36, 1.42, 1.48, 1.54, 1.60,
    1.66, 1.72, 1.78, 1.84, 1.90, 1.96, 2.02, 2.08, 2.14, 2.20,
    2.26, 2.32, 2.38, 2.44, 2.50, 2.56, 2.62, 2.68, 2.74, 2.80,
    0.95, 1.02, 1.08, 1.14, 1.20, 1.26, 1.32, 1.38, 1.44, 1.50,
    1.56, 1.62, 1.68, 1.74, 1.80, 1.86, 1.92, 1.98, 2.04, 2.10,
    2.16, 2.22, 2.28, 2.34, 2.40, 2.46, 2.52, 2.58, 2.64, 2.70,
    2.85, 2.89, 2.93, 2.96, 3.01, 2.76, 2.72, 2.64, 2.53, 2.47]
c_core2_y = [
    -1.88, -2.12, -1.78, -2.28, -1.98, -2.12, -1.88, -2.02, -1.78, -2.15,
    -2.42, -2.45, -2.28, -2.38, -2.32, -1.95, -2.02, -1.82, -1.65, -1.50,
    -1.72, -1.58, -1.85, -1.62, -1.48, -1.70, -1.55, -1.40, -1.62, -1.38,
    -1.55, -1.32, -1.50, -1.28, -1.45, -1.22, -1.38, -1.15, -1.32, -1.48,
    -1.18, -1.35, -1.08, -1.25, -1.12, -1.42, -1.05, -1.18, -0.95, -1.12,
    -1.00, -1.25, -0.92, -1.08, -1.30, -0.98, -1.12, -0.88, -1.22, -0.95,
    -1.15, -0.85, -1.05, -0.78, -1.20, -0.90, -1.10, -0.72, -1.00, -0.85,
    -0.92, -1.15, -0.78, -0.95, -0.68, -1.05, -0.82, -0.58, -1.00, -0.75,
    -1.22, -1.80, -1.02, -1.68, -0.88, -1.62, -0.78, -1.70, -0.68, -1.45,
    -0.62, -1.55, -0.55, -1.48, -0.68, -1.55, -0.52, -1.38, -0.62, -1.45,
    -0.58, -1.25, -0.52, -1.32, -0.45, -1.18, -0.38, -1.22, -0.42, -1.05,
    -2.15, -2.05, -1.95, -2.08, -1.88, -1.75, -1.90, -1.82, -1.65, -1.72,
    -0.88, -0.75, -0.82, -0.62, -0.78, -0.58, -0.80, -0.70, -0.75, -0.60,
    -1.30, -1.02, -1.28, -0.98, -1.18, -1.02, -1.25, -0.88, -1.35, -0.92,
    -0.78, -0.62, -0.88, -0.42, -0.82, -0.38, -0.95, -0.18, -0.15, -0.62]

c_core3_x = [
    1.03, 1.09, 1.15, 1.21, 1.27, 1.33, 1.39, 1.45, 1.51, 1.57,
    1.63, 1.69, 1.75, 1.81, 1.87, 1.93, 1.99, 2.05, 2.11, 2.17,
    2.23, 2.29, 2.35, 2.41, 2.47, 2.53, 2.59, 2.65, 2.71, 2.77,
    0.70, 0.74, 0.78, 0.82, 0.86, 0.90, 0.94, 0.98, 1.02, 1.06,
    1.10, 1.16, 1.22, 1.28, 1.34, 1.40, 1.46, 1.52, 1.58, 1.64,
    1.70, 1.76, 1.82, 1.88, 1.94, 2.00, 2.06, 2.12, 2.18, 2.24,
    2.30, 2.36, 2.42, 2.48, 2.54, 2.60, 2.66, 2.72, 2.78, 2.84,
    1.25, 1.35, 1.45, 1.55, 1.65, 1.75, 1.85, 1.95, 2.05, 2.15,
    2.25, 2.35, 2.45, 2.55, 2.65, 2.75, 2.85, 2.95, 1.15, 1.05,
    0.62, 0.66, 0.70, 0.74, 0.78, 0.82, 0.86, 0.90, 0.94, 1.00]
c_core3_y = [
    -1.42, -1.28, -1.52, -1.18, -1.38, -1.05, -1.25, -0.98, -1.20, -1.02,
    -0.98, -1.18, -0.88, -1.05, -0.82, -1.15, -0.90, -1.08, -0.78, -0.95,
    -0.88, -0.75, -0.92, -0.70, -0.88, -0.62, -0.80, -0.70, -0.58, -0.75,
    -1.95, -1.72, -2.05, -1.80, -1.92, -1.70, -1.88, -1.58, -1.82, -1.60,
    -1.72, -1.50, -1.62, -1.40, -1.55, -1.32, -1.50, -1.40, -1.30, -1.38,
    -1.32, -1.22, -1.35, -1.12, -1.25, -1.30, -1.05, -1.25, -1.10, -1.05,
    -1.02, -1.12, -0.98, -1.10, -0.90, -1.02, -0.95, -0.85, -0.98, -0.88,
    -0.72, -0.65, -0.62, -0.55, -0.48, -0.42, -0.50, -0.40, -0.45, -0.38,
    -0.35, -0.42, -0.32, -0.28, -0.22, -0.30, -0.25, -0.30, -0.82, -0.90,
    -2.30, -2.05, -2.38, -2.15, -2.48, -2.22, -2.05, -2.35, -2.18, -2.28]

c_bar_x = [0.52, 0.56, 3.16]
c_bar_y = [-0.83, -0.80, -1.50]
c_bar_yerr = [0.20, 0.25, 0.40]

c_red = {"x": [1.80], "y": [-0.99], "ex": [0.06], "ey": [0.09]}
c_line_kappa = [0.0, 3.45]
c_line_alpha = [-0.30, -4.04]
c_line_label = ["δ = 0", "δ = 0"]
c_notes = {"x": [2.86, 1.78], "y": [-2.48, -2.98], "t": ["disturbed", "relaxed"]}


# ---------------- helpers ----------------
def err_df(xs, ys, exs, eys):
    n = len(xs)
    if not (len(ys) == n and len(exs) == n and len(eys) == n):
        raise ValueError(f"length mismatch {n} {len(ys)} {len(exs)} {len(eys)}")
    df = pd.DataFrame({"x": xs, "y": ys, "ex": exs, "ey": eys})
    df["x0"] = df["x"] - df["ex"]
    df["x1"] = df["x"] + df["ex"]
    df["y0"] = df["y"] - df["ey"]
    df["y1"] = df["y"] + df["ey"]
    return df


def enc(xs, ax, ys, ay):
    def X(f):
        return alt.X(f, type="quantitative", scale=xs, axis=ax)

    def Y(f):
        return alt.Y(f, type="quantitative", scale=ys, axis=ay)
    return X, Y


def common_layers(X, Y, red, notes, title, w):
    rdf = err_df(red["x"], red["y"], red["ex"], red["ey"])
    red_h = alt.Chart(rdf).mark_rule(color="red", strokeWidth=2).encode(x=X("x0"), x2="x1", y=Y("y"))
    red_v = alt.Chart(rdf).mark_rule(color="red", strokeWidth=2).encode(x=X("x"), y=Y("y0"), y2="y1")
    ndf = pd.DataFrame(notes)
    txt = alt.Chart(ndf).mark_text(font=FONT, fontSize=15, color="black", align="center",
                                   baseline="middle").encode(x=X("x"), y=Y("y"), text="t:N")
    ttl = alt.Chart(pd.DataFrame({"t": [title]})).mark_text(
        font=FONT, fontSize=13.5, color="black", align="center", baseline="alphabetic"
    ).encode(x=alt.value(w / 2), y=alt.value(-2.5), text="t:N")
    return [red_h, red_v, txt, ttl]


def error_panel(df, xdom, ydom, xticks, yticks, xfmt, yfmt, xtitle, ytitle, title,
                vline, hline, red, notes, w, h):
    xs = alt.Scale(domain=xdom, nice=False, zero=False)
    ys = alt.Scale(domain=ydom, nice=False, zero=False)
    ax = alt.Axis(values=xticks, format=xfmt, title=xtitle)
    ay = alt.Axis(values=yticks, format=yfmt, title=ytitle)
    X, Y = enc(xs, ax, ys, ay)
    base = alt.Chart(df)
    hbar = base.mark_rule(color=GRAY, strokeWidth=1, clip=True).encode(x=X("x0"), x2="x1", y=Y("y"))
    vbar = base.mark_rule(color=GRAY, strokeWidth=1, clip=True).encode(x=X("x"), y=Y("y0"), y2="y1")
    pts = base.mark_point(shape=PLUS, size=42, filled=False, color=GRAY, strokeWidth=1,
                          opacity=1).encode(x=X("x"), y=Y("y"))
    vl = alt.Chart(pd.DataFrame({"v": vline})).mark_rule(
        color="blue", strokeWidth=1.5, strokeDash=[6, 3]).encode(x=X("v"))
    hl = alt.Chart(pd.DataFrame({"v": hline})).mark_rule(
        color="blue", strokeWidth=1.5, strokeDash=[6, 3]).encode(y=Y("v"))
    layers = [hbar, vbar, pts, vl, hl] + common_layers(X, Y, red, notes, title, w)
    return alt.layer(*layers).properties(width=w, height=h)


a_df = err_df(a_out_x + a_core_x + a_core2_x + a_core3_x,
              a_out_y + a_core_y + a_core2_y + a_core3_y,
              a_out_xerr + a_core_xerr + a_core2_xerr + a_core3_xerr,
              a_out_yerr + a_core_yerr + a_core2_yerr + a_core3_yerr)
b_df = err_df(b_out_x + b_core_x + b_core2_x, b_out_y + b_core_y + b_core2_y,
              b_out_xerr + b_core_xerr + b_core2_xerr, b_out_yerr + b_core_yerr + b_core2_yerr)

H = 335
panel_a = error_panel(a_df, [-6.07, 0.29], [-1.66, 0.32], [-6, -5, -4, -3, -2, -1, 0],
                      [0.25, 0.0, -0.25, -0.5, -0.75, -1.0, -1.25, -1.5], "d", ".2f",
                      "log₁₀(ω)", "log₁₀(c)", "(a)", a_vline, a_hline, a_red, a_notes, 334, H)
panel_b = error_panel(b_df, [-11.56, -1.80], [-6.04, 0.28], [-10, -8, -6, -4, -2],
                      [0, -1, -2, -3, -4, -5, -6], "d", "d",
                      "log₁₀(P₃/P₀)", "log₁₀(ω)", "(b)", b_vline, b_hline, b_red, b_notes, 334, H)

# panel (c): the last x label is right-aligned so the page does not overflow its width
CW = 333
cxs = alt.Scale(domain=[0, 3.5], nice=False, zero=False)
cys = alt.Scale(domain=[-4, 1], nice=False, zero=False)
cax = alt.Axis(values=[0, 0.5, 1, 1.5, 2, 2.5, 3, 3.5], format=".1f", title="κ", titleFontStyle="italic",
               labelAlign=alt.condition("datum.value >= 3.5", alt.value("right"), alt.value("center")))
cay = alt.Axis(values=[1, 0, -1, -2, -3, -4], format="d", title="log₁₀(α)", titleFontStyle="italic")
CX, CY = enc(cxs, cax, cys, cay)
c_pts_df = pd.DataFrame({"x": c_out_x + c_core_x + c_core2_x + c_core3_x + c_bar_x,
                         "y": c_out_y + c_core_y + c_core2_y + c_core3_y + c_bar_y})
c_bar_df = err_df(c_bar_x, c_bar_y, [0.0, 0.0, 0.0], c_bar_yerr)
c_pts = alt.Chart(c_pts_df).mark_point(shape=PLUS, size=64, filled=False, color=GRAY,
                                      strokeWidth=1, opacity=0.6).encode(x=CX("x"), y=CY("y"))
c_bars = alt.Chart(c_bar_df).mark_rule(color=GRAY, strokeWidth=1, opacity=0.7).encode(
    x=CX("x"), y=CY("y0"), y2="y1")
c_line = alt.Chart(pd.DataFrame({"k": c_line_kappa, "v": c_line_alpha, "lab": c_line_label})).mark_line(
    strokeWidth=1.5, strokeDash=[6, 3], clip=True).encode(
    x=CX("k"), y=CY("v"),
    color=alt.Color("lab:N", scale=alt.Scale(domain=["δ = 0"], range=["blue"]),
                    legend=alt.Legend(title=None, orient="top-right", offset=8, fillColor="white",
                                      strokeColor="#d0d0d0", cornerRadius=3, padding=5,
                                      labelFont=FONT, labelFontSize=15, labelColor="black",
                                      symbolType="M-1.55,0L1.55,0", symbolSize=400,
                                      symbolStrokeWidth=1.5, symbolDash=[6, 3],
                                      symbolOffset=6.5, labelOffset=27)))
panel_c = alt.layer(c_bars, c_pts, c_line, *common_layers(CX, CY, c_red, c_notes, "(c)", CW)).properties(
    width=CW, height=H)

chart = alt.hconcat(panel_a, panel_b, panel_c, spacing=67, bounds="flush").resolve_scale(
    x="independent", y="independent", color="independent"
).properties(
    padding={"left": 0, "top": 0, "right": 0, "bottom": 0}
).configure_view(
    stroke="black", strokeWidth=1
).configure_axis(
    labelFont=FONT, labelFontSize=9.5, labelColor="black", titleFont=FONT, titleFontSize=14.5,
    titleFontWeight="normal", titleColor="black", tickColor="black", tickSize=3.5, tickWidth=1,
    grid=False, domain=False, labelPadding=1.5, titlePadding=0.5, labelFlush=False
)

chart.save("out.html", embed_options={"renderer": "svg", "actions": False})
